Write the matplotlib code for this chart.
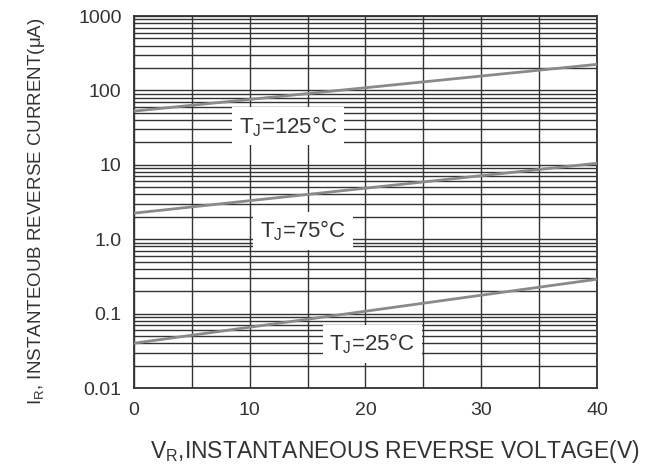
import matplotlib
matplotlib.use("Agg")
from matplotlib import pyplot as plt
from matplotlib.ticker import LogLocator, MultipleLocator, NullFormatter, FixedLocator, FixedFormatter

plt.rcParams['font.family'] = ['Liberation Sans', 'DejaVu Sans']
plt.rcParams['mathtext.fontset'] = 'custom'
plt.rcParams['mathtext.rm'] = 'Liberation Sans'

# data (straight lines on log axis)
volts = [0, 40]
ir_125 = [52.7, 224]
ir_75 = [2.24, 10.5]
ir_25 = [0.040, 0.29]

labels = ["T$_\\mathregular{J}$=125°C", "T$_\\mathregular{J}$=75°C", "T$_\\mathregular{J}$=25°C"]
label_x = [13.3, 14.6, 20.6]
label_y = [33, 1.3, 0.039]

yticks = [0.01, 0.1, 1, 10, 100, 1000]
ytick_labels = ["0.01", "0.1", "1.0", "10", "100", "1000"]
xticks = [0, 10, 20, 30, 40]

ink = "#333333"
fig = plt.figure(figsize=(6.68, 4.68), dpi=100)
ax = fig.add_axes([0.2006, 0.1709, 0.6931, 0.7949])

ax.set_yscale("log")
ax.set_xlim(0, 40)
ax.set_ylim(0.01, 1000)

ax.yaxis.set_major_locator(FixedLocator(yticks))
ax.yaxis.set_major_formatter(FixedFormatter(ytick_labels))
ax.yaxis.set_minor_locator(LogLocator(base=10, subs=range(2, 10), numticks=20))
ax.yaxis.set_minor_formatter(NullFormatter())
ax.xaxis.set_major_locator(FixedLocator(xticks))
ax.xaxis.set_minor_locator(MultipleLocator(5))

ax.grid(True, which="both", color=ink, linewidth=1.0)
ax.set_axisbelow(True)
ax.tick_params(which="both", length=0, labelsize=14, colors=ink)
ax.tick_params(axis="x", pad=10)
ax.tick_params(axis="y", pad=9)
for s in ax.spines.values():
    s.set_color(ink)
    s.set_linewidth(1.3)

for ys in (ir_125, ir_75, ir_25):
    ax.plot(volts, ys, color="#8a8a8a", linewidth=2.0, zorder=3)

for t, x, y in zip(labels, label_x, label_y):
    ax.text(x, y, t, fontsize=16, color=ink, ha="center", va="center", zorder=5,
            bbox=dict(boxstyle="square,pad=0.3", facecolor="white", edgecolor="none"))

ax.set_xlabel("V$_\\mathregular{R}$,INSTANTANEOUS REVERSE VOLTAGE(V)", fontsize=16.5, color=ink)
ax.set_ylabel("I$_\\mathregular{R}$, INSTANTEOUB REVERSE CURRENT(μA)", fontsize=13.5, color=ink)
ax.xaxis.set_label_coords(0.564, -0.135)
ax.yaxis.set_label_coords(-0.188, 0.476)

fig.savefig("out.png", dpi=100)
